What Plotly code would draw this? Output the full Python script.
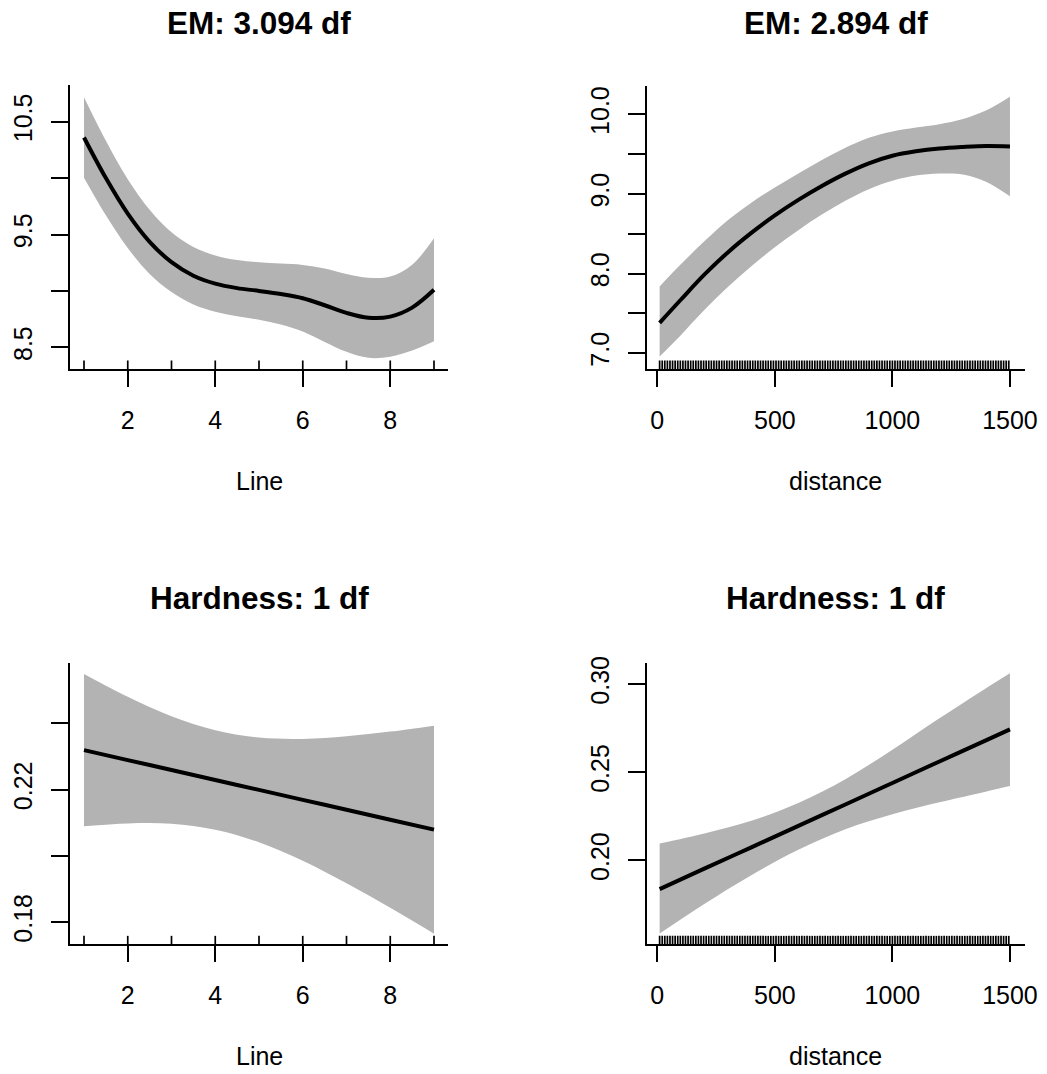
import plotly.graph_objects as go

W, H = 1047, 1074

# ---------------- data ----------------
line_x = [1, 1.5, 2, 2.5, 3, 3.5, 4, 4.5, 5, 5.5, 6, 6.5, 7, 7.5, 8, 8.5, 9]
em_line_fit = [10.36, 10.0, 9.685, 9.435, 9.255, 9.135, 9.065, 9.025, 9.0, 8.972,
               8.935, 8.873, 8.805, 8.762, 8.772, 8.852, 9.01]
em_line_upper = [10.716, 10.33, 9.99, 9.72, 9.52, 9.39, 9.315, 9.275, 9.255, 9.242,
                 9.23, 9.198, 9.15, 9.117, 9.127, 9.232, 9.466]
em_line_lower = [10.004, 9.67, 9.38, 9.15, 8.99, 8.88, 8.815, 8.775, 8.745, 8.702,
                 8.64, 8.548, 8.46, 8.407, 8.417, 8.472, 8.554]

dist_x = [10, 100, 200, 300, 400, 500, 600, 700, 800, 900, 1000, 1100, 1200, 1300, 1400, 1500]
em_dist_fit = [7.38, 7.67, 7.985, 8.265, 8.51, 8.73, 8.925, 9.1, 9.255, 9.385,
               9.48, 9.535, 9.57, 9.59, 9.603, 9.597]
em_dist_upper = [7.838, 8.115, 8.405, 8.67, 8.89, 9.08, 9.255, 9.425, 9.58, 9.705,
                 9.785, 9.835, 9.875, 9.94, 10.05, 10.22]
em_dist_lower = [6.957, 7.225, 7.54, 7.83, 8.09, 8.33, 8.545, 8.74, 8.915, 9.06,
                 9.165, 9.23, 9.255, 9.245, 9.15, 8.97]

hard_line_x = [1, 2, 3, 4, 5, 6, 7, 8, 9]
hard_line_fit = [0.2319, 0.2289, 0.2259, 0.2229, 0.2199, 0.2169, 0.2139, 0.2109, 0.2079]
hard_line_upper = [0.2549, 0.2480, 0.2421, 0.2379, 0.2357, 0.2353, 0.2361, 0.2375, 0.2393]
hard_line_lower = [0.2089, 0.2098, 0.2097, 0.2079, 0.2041, 0.1985, 0.1917, 0.1843, 0.1765]

hard_dist_x = [10, 200, 400, 600, 800, 1000, 1200, 1400, 1500]
hard_dist_fit = [0.1837, 0.1953, 0.2074, 0.2196, 0.2317, 0.2439, 0.2561, 0.2682, 0.2743]
hard_dist_upper = [0.2095, 0.2152, 0.2224, 0.2325, 0.2460, 0.2628, 0.2806, 0.2978, 0.3061]
hard_dist_lower = [0.1585, 0.1753, 0.1916, 0.2060, 0.2177, 0.2261, 0.2329, 0.2391, 0.2422]

# rug positions (observed covariate values)
rug_line = [1, 2, 3, 4, 5, 6, 7, 8, 9]
rug_dist = [10, 21, 32, 43, 54, 65, 76, 87, 98, 109, 120, 131, 142, 153, 164, 175, 186, 197,
            208, 219, 230, 241, 252, 263, 274, 285, 296, 307, 318, 329, 340, 351, 362, 373,
            384, 395, 406, 417, 428, 439, 450, 461, 472, 483, 494, 505, 516, 527, 538, 549,
            560, 571, 582, 593, 604, 615, 626, 637, 648, 659, 670, 681, 692, 703, 714, 725,
            736, 747, 758, 769, 780, 791, 802, 813, 824, 835, 846, 857, 868, 879, 890, 901,
            912, 923, 934, 945, 956, 967, 978, 989, 1000, 1011, 1022, 1033, 1044, 1055, 1066,
            1077, 1088, 1099, 1110, 1121, 1132, 1143, 1154, 1165, 1176, 1187, 1198, 1209,
            1220, 1231, 1242, 1253, 1264, 1275, 1286, 1297, 1308, 1319, 1330, 1341, 1352,
            1363, 1374, 1385, 1396, 1407, 1418, 1429, 1440, 1451, 1462, 1473, 1484, 1495]

titles = ["EM: 3.094 df", "EM: 2.894 df", "Hardness: 1 df", "Hardness: 1 df"]
xlabels = ["Line", "distance", "Line", "distance"]

line_ticks = [2, 4, 6, 8]
dist_ticks = [0, 500, 1000, 1500]
ytick_vals = [
    [8.5, 9.0, 9.5, 10.0, 10.5],
    [7.0, 7.5, 8.0, 8.5, 9.0, 9.5, 10.0],
    [0.18, 0.20, 0.22, 0.24],
    [0.20, 0.25, 0.30],
]
ytick_text = [
    ["8.5", "", "9.5", "", "10.5"],
    ["7.0", "", "8.0", "", "9.0", "", "10.0"],
    ["0.18", "", "0.22", ""],
    ["0.20", "0.25", "0.30"],
]

# ---------------- layout geometry (pixels) ----------------
panels = [
    dict(x0=70, x1=448, y0=85, y1=369, xr=[0.68, 9.32], yr=[8.308, 10.825]),
    dict(x0=646.7, x1=1025, y0=86, y1=369, xr=[-45, 1564], yr=[6.80, 10.356]),
    dict(x0=70, x1=448, y0=662.7, y1=944.3, xr=[0.68, 9.32], yr=[0.1733, 0.2583]),
    dict(x0=646.7, x1=1025, y0=662.7, y1=944.3, xr=[-45, 1564], yr=[0.1524, 0.3121]),
]
title_y = [23, 23, 598, 598]
xlab_y = [481, 481, 1056, 1056]

series = [
    (line_x, em_line_fit, em_line_upper, em_line_lower),
    (dist_x, em_dist_fit, em_dist_upper, em_dist_lower),
    (hard_line_x, hard_line_fit, hard_line_upper, hard_line_lower),
    (hard_dist_x, hard_dist_fit, hard_dist_upper, hard_dist_lower),
]
rugs = [rug_line, rug_dist, rug_line, rug_dist]
xticks = [line_ticks, dist_ticks, line_ticks, dist_ticks]

FONT = "Liberation Sans, Arial, Helvetica, sans-serif"
GREY = "#B3B3B3"

fig = go.Figure()
shapes = []
annotations = []
layout_axes = {}

for i, (p, (xs, fit, up, lo)) in enumerate(zip(panels, series)):
    n = i + 1
    xa = "x" if n == 1 else f"x{n}"
    ya = "y" if n == 1 else f"y{n}"
    xkey = "xaxis" if n == 1 else f"xaxis{n}"
    ykey = "yaxis" if n == 1 else f"yaxis{n}"

    fig.add_trace(go.Scatter(x=xs, y=lo, mode="lines", line=dict(width=0, color=GREY, shape="spline"),
                             xaxis=xa, yaxis=ya, showlegend=False, hoverinfo="skip"))
    fig.add_trace(go.Scatter(x=xs, y=up, mode="lines", line=dict(width=0, color=GREY, shape="spline"),
                             fill="tonexty", fillcolor=GREY,
                             xaxis=xa, yaxis=ya, showlegend=False, hoverinfo="skip"))
    fig.add_trace(go.Scatter(x=xs, y=fit, mode="lines", line=dict(width=4, color="black", shape="spline"),
                             xaxis=xa, yaxis=ya, showlegend=False))

    common = dict(showgrid=False, zeroline=False, showline=True, linecolor="black", linewidth=1.5,
                  ticks="outside", tickcolor="black", tickwidth=1.5,
                  tickfont=dict(family=FONT, size=25, color="black"), automargin=False)
    layout_axes[xkey] = dict(common, domain=[p["x0"] / W, p["x1"] / W], range=p["xr"], anchor=ya,
                             tickmode="array", tickvals=xticks[i],
                             ticktext=[str(t) for t in xticks[i]],
                             ticklen=16, ticklabelstandoff=12)
    layout_axes[ykey] = dict(common, domain=[1 - p["y1"] / H, 1 - p["y0"] / H], range=p["yr"], anchor=xa,
                             tickmode="array", tickvals=ytick_vals[i], ticktext=ytick_text[i],
                             ticklen=17, tickangle=-90, ticklabelstandoff=9)

    for r in rugs[i]:
        shapes.append(dict(type="line", xref=xa, yref=f"{ya} domain", x0=r, x1=r, y0=0, y1=0.03,
                           line=dict(color="black", width=1.7)))

    cx = (p["x0"] + p["x1"]) / 2 / W
    annotations.append(dict(text=f"<b>{titles[i]}</b>", x=cx, y=1 - title_y[i] / H, xref="paper", yref="paper",
                            xanchor="center", yanchor="middle", showarrow=False,
                            font=dict(family=FONT, size=31.5, color="black")))
    annotations.append(dict(text=xlabels[i], x=cx, y=1 - xlab_y[i] / H, xref="paper", yref="paper",
                            xanchor="center", yanchor="middle", showarrow=False,
                            font=dict(family=FONT, size=25, color="black")))

fig.update_layout(
    width=W, height=H,
    margin=dict(l=0, r=0, t=0, b=0),
    paper_bgcolor="white", plot_bgcolor="white",
    shapes=shapes, annotations=annotations,
    showlegend=False,
    **layout_axes,
)

fig.write_html("out.html", config={"displayModeBar": False})
